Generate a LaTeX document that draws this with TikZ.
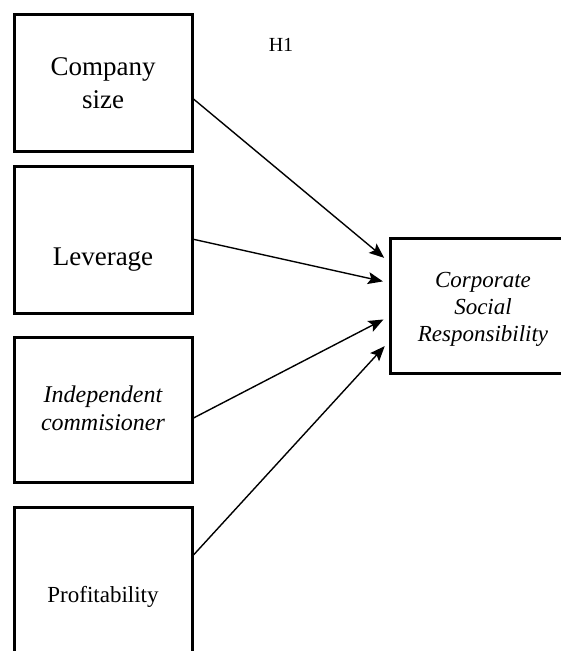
\documentclass[tikz,border=0pt]{standalone}
\usepackage{fontspec}
\setmainfont{Liberation Serif}
\usetikzlibrary{arrows.meta,calc}
\begin{document}
\begin{tikzpicture}[x=1pt,y=-1pt,
  box/.style={draw=black,line width=3pt,inner sep=0pt,minimum width=178pt},
  lbl/.style={font=\fontsize{27}{33}\selectfont,align=center,inner sep=0pt},
  ilbl/.style={font=\fontsize{24}{28}\selectfont\itshape,align=center,inner sep=0pt},
  conn/.style={line width=1.4pt,-{Stealth[length=15pt,width=12pt,inset=3pt]},shorten >=6pt}]
\clip (0,0) rectangle (561,651);
\fill[white] (0,0) rectangle (561,651);
% boxes
\node[box,minimum height=136.6pt] (b1) at (103,83) {};
\node[box,minimum height=146.6pt] (b2) at (103,240) {};
\node[box,minimum height=145pt] (b3) at (103,409.5) {};
\node[box,minimum height=180pt] (b4) at (103,597.7) {};
\node[box,minimum width=188pt,minimum height=135pt] (csr) at (484.3,306.2) {};
% texts
\node[lbl] (t1) at (103,83.5) {Company\\size};
\node[lbl,anchor=base] (t2) at (103,265) {Leverage};
\node[ilbl] (t3) at (103,408) {Independent\\commisioner};
\node[lbl,anchor=base,font=\fontsize{23}{28}\selectfont] (t4) at (103,602) {Profitability};
\node[ilbl,font=\fontsize{23}{27}\selectfont\itshape] (t5) at (483,309.5) {Corporate\\Social\\Responsibility};
\node[font=\fontsize{20}{24}\selectfont,inner sep=0pt] (h1) at (281,45) {H1};
% connectors
\draw[conn] ($(b1.east)+(0,16)$) -- ($(csr.west)+(0,-44.5)$);
\draw[conn] ($(b2.east)+(0,-0.7)$) -- ($(csr.west)+(0,-23.5)$);
\draw[conn] ($(b3.east)+(0,8.5)$) -- ($(csr.west)+(0,10.5)$);
\draw[conn] ($(b4.east)+(0,-42.7)$) -- ($(csr.west)+(0,35.5)$);
\end{tikzpicture}
\end{document}
